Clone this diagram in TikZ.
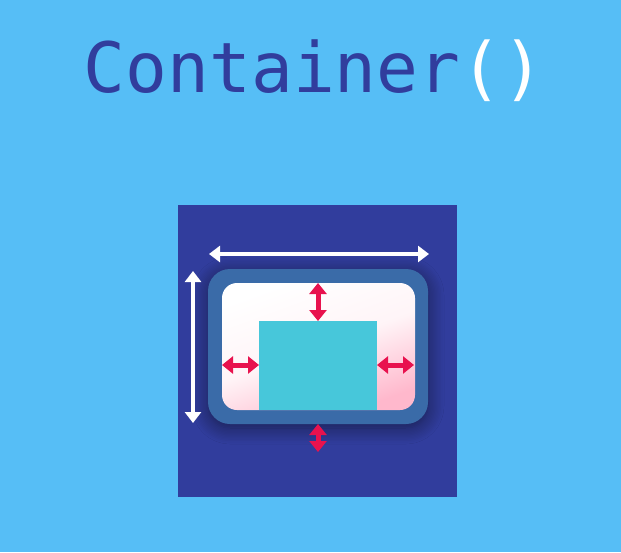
\documentclass[tikz,border=0pt]{standalone}
\usepackage{fontspec}
\newfontfamily\monof{DejaVu Sans Mono}
\usetikzlibrary{arrows.meta,shadows.blur}
\definecolor{bgblue}{HTML}{56BEF6}
\definecolor{indigo}{HTML}{313D9D}
\definecolor{steel}{HTML}{3A6BA8}
\definecolor{cyanbox}{HTML}{47C7DA}
\definecolor{pinkish}{HTML}{FFB8CC}
\definecolor{crimson}{HTML}{E8124E}
\tikzset{
  whitearrow/.style={draw=white,line width=4pt,{Triangle[length=11pt,width=16pt]}-{Triangle[length=11pt,width=16pt]}},
  redarrow/.style={draw=crimson,line width=5pt,{Triangle[length=11pt,width=17pt]}-{Triangle[length=11pt,width=17pt]}},
  title/.style={font=\monof\fontsize{69.5}{80}\selectfont,inner sep=0pt},
}
\begin{document}
\begin{tikzpicture}[x=1pt,y=-1pt]
\useasboundingbox (0,0) rectangle (621,552);
\fill[bgblue] (0,0) rectangle (621,552);
% title
\node[title,anchor=base] (title) at (314,92) {\textcolor{indigo}{Container}\textcolor{white}{()}};
% dark square
\fill[indigo] (178,205) rectangle (457,497);
% container
\fill[steel,rounded corners=22pt,blur shadow={shadow xshift=0pt,shadow yshift=-4pt,shadow blur radius=16pt,shadow opacity=50,shadow blur steps=12}] (208,269) rectangle (428,424);
\shade[rounded corners=15pt,top color=white,bottom color=pinkish,shading angle=20,middle color=white!85!pinkish] (222,283) rectangle (415,410);
\fill[cyanbox] (259,321) rectangle (377,410);
% coordinates
\coordinate (hl) at (209,254);
\coordinate (hr) at (429,254);
\coordinate (vt) at (193,271);
\coordinate (vb) at (193,423);
\coordinate (tt) at (318,283);
\coordinate (tb) at (318,321);
\coordinate (ll) at (222,365);
\coordinate (lr) at (259,365);
\coordinate (rl) at (377,365);
\coordinate (rr) at (414,365);
\coordinate (bt) at (318,424);
\coordinate (bb) at (318,452);
\draw[whitearrow] (hl) -- (hr);
\draw[whitearrow] (vt) -- (vb);
\draw[redarrow] (tt) -- (tb);
\draw[redarrow] (ll) -- (lr);
\draw[redarrow] (rl) -- (rr);
\draw[redarrow] (bt) -- (bb);
\end{tikzpicture}
\end{document}
